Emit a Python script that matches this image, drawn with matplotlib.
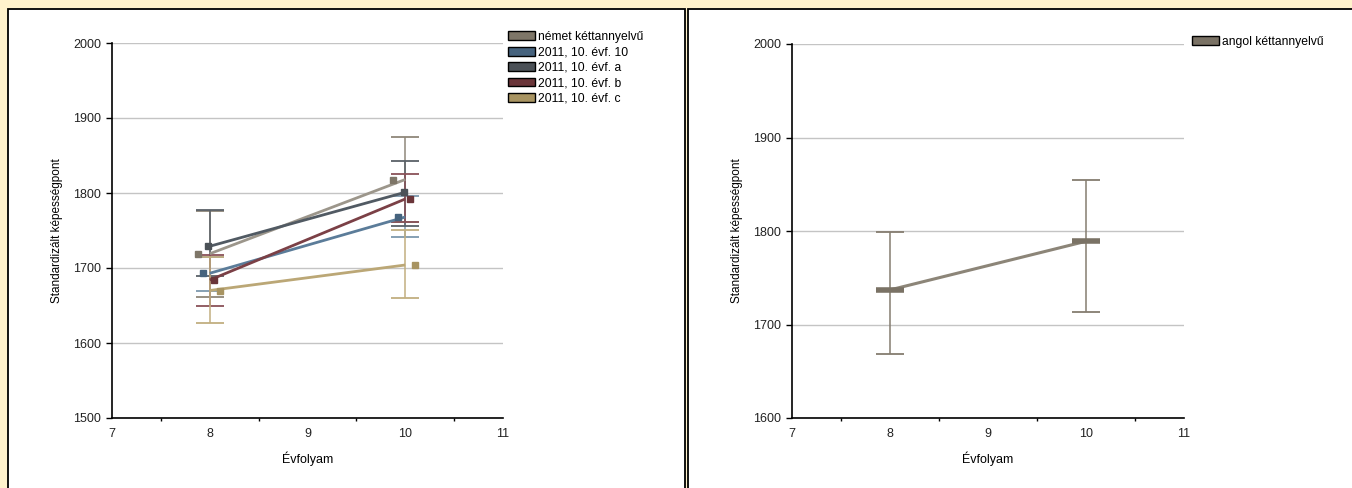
import matplotlib
matplotlib.use("Agg")
import matplotlib.pyplot as plt
from matplotlib.patches import Rectangle, Patch
import numpy as np

plt.rcParams['font.family'] = ['Liberation Sans', 'DejaVu Sans']

# ---------------- data ----------------
grades = [8, 10]

left_series = ["német kéttannyelvű", "2011, 10. évf. 10", "2011, 10. évf. a",
               "2011, 10. évf. b", "2011, 10. évf. c"]
left_means = [
    [1719, 1818],
    [1693, 1768],
    [1729, 1801],
    [1684, 1792],
    [1670, 1704],
]
left_low = [
    [1662, 1761],
    [1670, 1742],
    [1690, 1756],
    [1649, 1761],
    [1627, 1660],
]
left_high = [
    [1776, 1875],
    [1715, 1796],
    [1778, 1843],
    [1718, 1825],
    [1715, 1751],
]

right_series = ["angol kéttannyelvű"]
right_means = [[1737, 1789]]
right_low = [[1668, 1713]]
right_high = [[1799, 1855]]

# ---------------- styles ----------------
left_marker_colors = ["#7e7668", "#46637e", "#4b5157", "#6a3539", "#a89462"]
left_line_colors = ["#9c968b", "#5b7c99", "#515a63", "#7b4046", "#bba776"]
left_err_colors = ["#8f877a", "#7d98ae", "#5a6168", "#8a5258", "#c2af80"]
left_offsets = [-0.125, -0.07, -0.013, 0.045, 0.102]

right_marker_color = "#7a7265"
right_line_color = "#8c8578"
right_err_color = "#857d70"

W, H = 1352, 488
fig = plt.figure(figsize=(W / 100, H / 100), dpi=100)
fig.patch.set_facecolor("#FFF2CC")

# white panels with black border
fig.patches.append(Rectangle((8 / W, -0.01), (684.5 - 8) / W, (H - 9 + 5) / H,
                             transform=fig.transFigure, facecolor="white",
                             edgecolor="black", linewidth=1.3, zorder=-5))
fig.patches.append(Rectangle((688 / W, -0.01), (W + 10 - 688) / W, (H - 9 + 5) / H,
                             transform=fig.transFigure, facecolor="white",
                             edgecolor="black", linewidth=1.3, zorder=-5))


def make_axes(x0, x1, ytop, ybot):
    ax = fig.add_axes([x0 / W, (H - ybot) / H, (x1 - x0) / W, (ybot - ytop) / H])
    ax.set_zorder(1)
    ax.set_facecolor("none")
    for s in ["top", "right"]:
        ax.spines[s].set_visible(False)
    for s in ["left", "bottom"]:
        ax.spines[s].set_color("black")
        ax.spines[s].set_linewidth(1.2)
    ax.set_xlim(7, 11)
    ax.set_xticks([7, 8, 9, 10, 11])
    ax.set_xticks([7.5, 8.5, 9.5, 10.5], minor=True)
    ax.tick_params(axis="x", which="major", length=0, pad=7, labelsize=9)
    ax.tick_params(axis="x", which="minor", length=2.5, width=1, direction="out")
    ax.tick_params(axis="y", which="major", length=4.5, width=1, pad=3.5, labelsize=9)
    ax.tick_params(axis="both", colors="black", labelcolor="#222222")
    ax.yaxis.grid(True, color="#c4c4c4", linewidth=1)
    ax.set_axisbelow(True)
    ax.set_xlabel("Évfolyam", fontsize=9)
    ax.set_ylabel("Standardizált képességpont", fontsize=8.5)
    return ax


# ---------------- left chart ----------------
axL = make_axes(112, 503, 43, 418)
axL.set_ylim(1500, 2000)
axL.set_yticks([1500, 1600, 1700, 1800, 1900, 2000])
axL.xaxis.set_label_coords(0.5, -0.109)
axL.xaxis.label.set_va("center")
axL.yaxis.set_label_coords(-0.1407, 0.5)
axL.yaxis.label.set_va("center")

for i, name in enumerate(left_series):
    lo = np.array(left_low[i])
    hi = np.array(left_high[i])
    mid = (lo + hi) / 2
    axL.errorbar(grades, mid, yerr=[mid - lo, hi - mid],
                 fmt="none", ecolor=left_err_colors[i], elinewidth=1.1,
                 capsize=10.4, capthick=1.3, zorder=2 + i * 0.01)
for i, name in enumerate(left_series):
    axL.plot(grades, left_means[i], color=left_line_colors[i], linewidth=2.0,
             zorder=3 + i * 0.01, solid_capstyle="butt")
for i, name in enumerate(left_series):
    axL.plot(np.array(grades) + left_offsets[i], left_means[i], linestyle="none",
             marker="s", markersize=4.6, color=left_marker_colors[i], zorder=4)

handlesL = [Patch(facecolor=c, edgecolor="black", linewidth=1.0) for c in left_marker_colors]
fig.legend(handlesL, left_series, loc="upper left",
           bbox_to_anchor=(508 / W, 1 - 31 / H), frameon=False, fontsize=8.7,
           handlelength=2.2, handleheight=0.75, labelspacing=0.28, handletextpad=0.3,
           borderpad=0, borderaxespad=0)

# ---------------- right chart ----------------
axR = make_axes(792, 1184, 44, 418)
axR.set_ylim(1600, 2000)
axR.set_yticks([1600, 1700, 1800, 1900, 2000])
axR.xaxis.set_label_coords(0.5, -0.11)
axR.xaxis.label.set_va("center")
axR.yaxis.set_label_coords(-0.140, 0.5)
axR.yaxis.label.set_va("center")

lo = np.array(right_low[0])
hi = np.array(right_high[0])
mid = (lo + hi) / 2
axR.errorbar(grades, mid, yerr=[mid - lo, hi - mid],
             fmt="none", ecolor=right_err_color, elinewidth=1.1, capsize=10.2,
             capthick=1.3, zorder=2)
axR.plot(grades, right_means[0], color=right_line_color, linewidth=2.2, zorder=3)
axR.plot(grades, right_means[0], linestyle="none", marker="_", markersize=20,
         markeredgewidth=4, color=right_marker_color, zorder=4)

handlesR = [Patch(facecolor=right_marker_color, edgecolor="black", linewidth=1.0)]
fig.legend(handlesR, right_series, loc="upper left",
           bbox_to_anchor=(1192 / W, 1 - 36 / H), frameon=False, fontsize=8.7,
           handlelength=2.2, handleheight=0.75, labelspacing=0.28, handletextpad=0.3,
           borderpad=0, borderaxespad=0)

fig.savefig("out.png", dpi=100, facecolor=fig.get_facecolor())
